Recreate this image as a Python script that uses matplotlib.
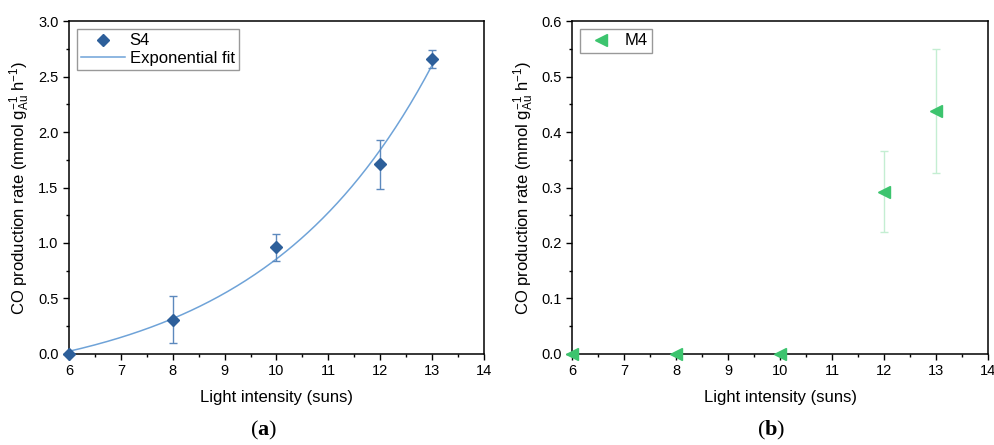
import numpy as np
from matplotlib import pyplot as plt
from matplotlib.ticker import MultipleLocator
from matplotlib.lines import Line2D

plt.rcParams['font.family'] = ['Liberation Sans', 'DejaVu Sans']
plt.rcParams['mathtext.fontset'] = 'custom'
plt.rcParams['mathtext.rm'] = 'Liberation Sans'
plt.rcParams['mathtext.it'] = 'Liberation Sans:italic'
plt.rcParams['mathtext.bf'] = 'Liberation Serif:bold'

# panel (a) - S4
x_s4 = np.array([6, 8, 10, 12, 13])
y_s4 = np.array([0.0, 0.31, 0.96, 1.71, 2.66])
err_s4 = np.array([0.0, 0.21, 0.12, 0.22, 0.08])

# panel (b) - M4
x_m4 = np.array([6, 8, 10, 12, 13])
y_m4 = np.array([0.0, 0.0, 0.0, 0.292, 0.438])
err_m4 = np.array([0.0, 0.0, 0.0, 0.073, 0.111])

ylab = r'CO production rate (mmol g$_{\mathrm{Au}}^{-1}$ h$^{-1}$)'
xlab = 'Light intensity (suns)'


def ajuste_exp(x, y):
    # y = A*exp(x/t) + y0, grid search over t, lsq for A, y0
    mejor = None
    for t in np.linspace(0.5, 20, 2000):
        M = np.column_stack([np.exp(x / t), np.ones(len(x))])
        c, _, _, _ = np.linalg.lstsq(M, y, rcond=None)
        r = sum((M @ c - y) ** 2)
        if mejor is None or r < mejor[0]:
            mejor = (r, t, c)
    return mejor[1], mejor[2]


t, c = ajuste_exp(x_s4.astype(float), y_s4)
xf = np.linspace(6, 13, 200)
yf = c[0] * np.exp(xf / t) + c[1]

fig = plt.figure(figsize=(9.95, 4.45), dpi=100)
axa = fig.add_axes([0.0693, 0.2045, 0.4171, 0.7483])
axb = fig.add_axes([0.5749, 0.2045, 0.4181, 0.7483])

axa.plot(xf, yf, '-', color='#6fa3d8', lw=1.1, zorder=2)
axa.errorbar(x_s4, y_s4, yerr=err_s4, fmt='D', color='#2d5f9a', ms=6,
             ecolor='#5c89bd', elinewidth=1, capsize=3, capthick=1,
             zorder=3, clip_on=False)
axa.set_ylim(0, 3.0)
axa.yaxis.set_major_locator(MultipleLocator(0.5))
axa.yaxis.set_minor_locator(MultipleLocator(0.25))
hs4 = Line2D([], [], ls='none', marker='D', color='#2d5f9a', ms=6)
hfit = Line2D([], [], color='#6fa3d8', lw=1.1)
axa.legend([hs4, hfit], ['S4', 'Exponential fit'], loc='upper left',
           fontsize=12, fancybox=False, edgecolor='#999999', framealpha=1,
           borderpad=0.25, handlelength=2.6, handletextpad=0.3,
           labelspacing=0.15, borderaxespad=0, bbox_to_anchor=(0.02, 0.975))

axb.errorbar(x_m4, y_m4, yerr=err_m4, fmt='<', color='#3cc46e', ms=8,
             ecolor='#c4eed2', elinewidth=1, capsize=3, capthick=1,
             zorder=3, clip_on=False)
axb.set_ylim(0, 0.6)
axb.yaxis.set_major_locator(MultipleLocator(0.1))
axb.yaxis.set_minor_locator(MultipleLocator(0.05))
hm4 = Line2D([], [], ls='none', marker='<', color='#3cc46e', ms=8)
axb.legend([hm4], ['M4'], loc='upper left', fontsize=12, fancybox=False,
           edgecolor='#999999', framealpha=1, borderpad=0.25,
           handlelength=2.0, handletextpad=0.4, borderaxespad=0,
           bbox_to_anchor=(0.02, 0.975))

for ax in (axa, axb):
    ax.set_xlim(6, 14)
    ax.xaxis.set_major_locator(MultipleLocator(1))
    ax.xaxis.set_minor_locator(MultipleLocator(0.5))
    ax.tick_params(which='major', direction='out', length=4, width=1,
                   labelsize=10.5, top=False, right=False)
    ax.tick_params(which='minor', direction='out', length=2.5, width=1,
                   top=False, right=False)
    for s in ax.spines.values():
        s.set_linewidth(1.1)
    ax.set_xlabel(xlab, fontsize=12, labelpad=8)
    ax.set_ylabel(ylab, fontsize=12, labelpad=4)

axa.yaxis.set_major_formatter(plt.FormatStrFormatter('%.1f'))
axb.yaxis.set_major_formatter(plt.FormatStrFormatter('%.1f'))

fig.text(0.265, 0.022, r'($\mathbf{a}$)', fontsize=16,
         family='Liberation Serif', ha='center')
fig.text(0.775, 0.022, r'($\mathbf{b}$)', fontsize=16,
         family='Liberation Serif', ha='center')

plt.savefig('out.png', dpi=100)
